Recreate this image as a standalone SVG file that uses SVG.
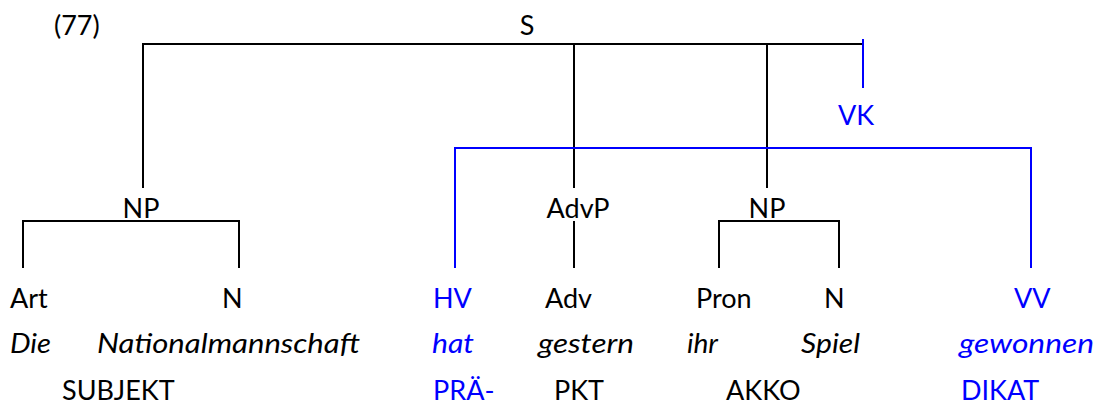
<svg xmlns="http://www.w3.org/2000/svg" width="1097" height="407" viewBox="0 0 1097 407">
<style>
text{font-family:Lato,"Open Sans","Liberation Sans",sans-serif;font-size:27px;fill:#000}
.b{fill:#0000ff}
.i{font-style:italic}
.k{stroke:#000;stroke-width:2;fill:none}
.bl{stroke:#0000ff;stroke-width:2;fill:none}
</style>
<rect width="1097" height="407" fill="#fff"/>
<text x="54" y="35">(77)</text>
<g id="connectors">
<polyline class="k" points="143,188 143,44 862,44"/>
<line class="k" x1="574" y1="44" x2="574" y2="188"/>
<line class="k" x1="767" y1="44" x2="767" y2="188"/>
<line class="bl" x1="863" y1="39" x2="863" y2="88"/>
<polyline class="bl" points="455,268 455,148 1031,148 1031,268"/>
<polyline class="k" points="23,268 23,221 239,221 239,268"/>
<line class="k" x1="574" y1="221" x2="574" y2="268"/>
<polyline class="k" points="719,268 719,221 839,221 839,268"/>
</g>
<g id="S"><text x="527" y="35" text-anchor="middle">S</text></g>
<g id="VK"><text class="b" x="856" y="125" text-anchor="middle">VK</text></g>
<g id="NP1"><text x="141" y="218" text-anchor="middle">NP</text></g>
<g id="AdvP"><text x="578" y="218" text-anchor="middle">AdvP</text></g>
<g id="NP2"><text x="767" y="218" text-anchor="middle">NP</text></g>
<g id="Art"><text x="10" y="308">Art</text><text class="i" x="10" y="353" textLength="41" lengthAdjust="spacingAndGlyphs">Die</text></g>
<g id="N1"><text x="222" y="308">N</text><text class="i" x="97" y="353" textLength="263" lengthAdjust="spacingAndGlyphs">Nationalmannschaft</text></g>
<g id="HV"><text class="b" x="433" y="308">HV</text><text class="b i" x="432" y="353" textLength="42" lengthAdjust="spacingAndGlyphs">hat</text></g>
<g id="Adv"><text x="545" y="308">Adv</text><text class="i" x="538" y="353" textLength="96" lengthAdjust="spacingAndGlyphs">gestern</text></g>
<g id="Pron"><text x="696" y="308">Pron</text><text class="i" x="687" y="353" textLength="31" lengthAdjust="spacingAndGlyphs">ihr</text></g>
<g id="N2"><text x="824" y="308">N</text><text class="i" x="801" y="353" textLength="59" lengthAdjust="spacingAndGlyphs">Spiel</text></g>
<g id="VV"><text class="b" x="1014" y="308">VV</text><text class="b i" x="959" y="353" textLength="135" lengthAdjust="spacingAndGlyphs">gewonnen</text></g>
<g id="functions">
<text x="62" y="400">SUBJEKT</text>
<text class="b" x="433" y="400">PRÄ-</text>
<text x="554" y="400">PKT</text>
<text x="726" y="400">AKKO</text>
<text class="b" x="961" y="400">DIKAT</text>
</g>
</svg>
